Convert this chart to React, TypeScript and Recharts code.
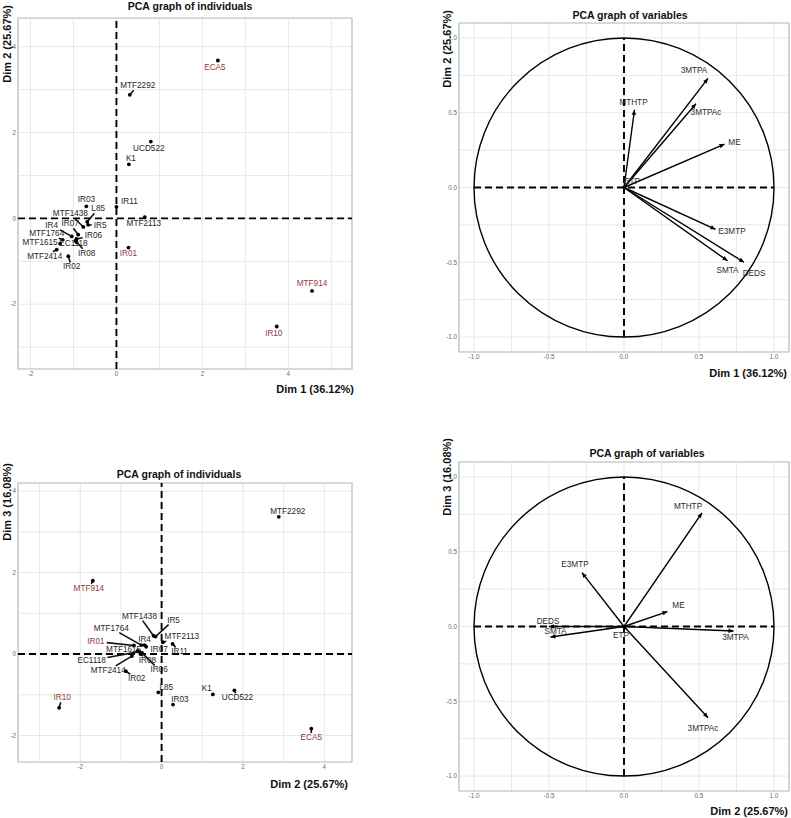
import React from "react";
import {
  CartesianGrid,
  ReferenceArea,
  ReferenceLine,
  Scatter,
  ScatterChart,
  XAxis,
  YAxis,
} from "recharts";

// individuals (coordinates on the first three dimensions)
const individuals = [
  "ECA5", "MTF2292", "UCD522", "K1", "IR11", "MTF2113", "IR01", "MTF914", "IR10", "IR03", "L85",
  "MTF1438", "IR5", "IR4", "IR07", "MTF1764", "IR06", "MTF1615", "EC1118", "IR08", "MTF2414", "IR02",
];
const indDim1 = [2.36, 0.31, 0.8, 0.29, 0.0, 0.66, 0.28, 4.55, 3.73, -0.7, -0.68, -0.77, -0.66, -1.04, -0.89, -1.25, -0.93, -1.31, -0.93, -0.95, -1.39, -1.12];
const indDim2 = [3.68, 2.88, 1.79, 1.26, 0.27, 0.03, -0.68, -1.69, -2.52, 0.28, -0.08, -0.2, -0.15, -0.42, -0.38, -0.5, -0.48, -0.59, -0.55, -0.52, -0.73, -0.88];
const indDim3 = [-1.83, 3.37, -0.89, -0.99, 0.25, 0.29, 0.21, 1.8, -1.32, -1.24, -0.94, 0.45, 0.43, 0.22, 0.18, 0.22, 0.03, 0.08, 0.06, 0.0, -0.05, -0.42];
const highlighted = ["ECA5", "IR01", "MTF914", "IR10"];

// variables (correlations with the dimensions)
const variables = ["3MTPA", "3MTPAc", "MTHTP", "ME", "E3MTP", "SMTA", "DEDS", "ETP"];
const varDim1 = [0.56, 0.48, 0.07, 0.67, 0.61, 0.69, 0.8, 0.02];
const varDim2 = [0.73, 0.56, 0.52, 0.29, -0.28, -0.49, -0.5, 0.02];
const varDim3 = [-0.03, -0.61, 0.76, 0.1, 0.36, -0.07, 0.0, -0.02];

// ticks (odd / quarter ones only carry a grid line)
const ticks12X = [-2, -1, 0, 1, 2, 3, 4, 5];
const ticks12Y = [-3, -2, -1, 0, 1, 2, 3, 4];
const ticks23X = [-3, -2, -1, 0, 1, 2, 3, 4];
const ticks23Y = [-2, -1, 0, 1, 2, 3, 4];
const varTicks = [-1, -0.75, -0.5, -0.25, 0, 0.25, 0.5, 0.75, 1];

// label placement (px offsets from the point, like repelled labels)
const nudge12: Record<string, [number, number]> = {
  ECA5: [-3, 7], MTF2292: [8, -9], UCD522: [-2, 6.5], K1: [2, -6], IR11: [13, -5.5], MTF2113: [-1, 6],
  IR01: [0, 5.5], MTF914: [0, -7], IR10: [-3, 7], IR03: [0, -7], L85: [11, -13], MTF1438: [-13, -13],
  IR5: [12, 0.5], IR4: [-20, -11], IR07: [-8, -11], MTF1764: [-16, -6], IR06: [17, -3.5],
  MTF1615: [-20, -1], EC1118: [-3, 2], IR08: [11, 12.6], MTF2414: [-12, 6.6], IR02: [3.4, 10.8],
};
const nudge23: Record<string, [number, number]> = {
  MTF2292: [9, -5.5], MTF914: [-4, 7.7], IR10: [3, -10], ECA5: [0, 9], K1: [-6, -6], UCD522: [3, 7.4],
  IR03: [7, -5], L85: [8, -5], MTF2113: [19, -5.5], IR11: [7, 8], IR5: [18, -16.5], MTF1438: [-14, -19.6],
  IR4: [0, -6], MTF1764: [-30, -17], IR01: [-38, -4], IR07: [13, 2.6], MTF1615: [-14, -1.4],
  EC1118: [-47.6, 8.7], IR08: [7, 6.7], IR06: [17, 17], MTF2414: [-23.7, 14.3], IR02: [10.8, 7.6],
};
const varNudge12: Record<string, [number, number]> = {
  "3MTPA": [-14, -7.5], "3MTPAc": [10, 9], MTHTP: [-1, -7.5], ME: [10, -2], E3MTP: [16.5, 2],
  SMTA: [0, 10], DEDS: [10, 11.5], ETP: [5, -3],
};
const varNudge23: Record<string, [number, number]> = {
  MTHTP: [-14, -6], E3MTP: [-7, -8], ME: [11, -6], DEDS: [-1, -5], SMTA: [5, -5],
  "3MTPA": [2, 7], "3MTPAc": [-5, 11], ETP: [-6, 6],
};

const FONT = "'Liberation Sans', Arial, sans-serif";
const GRID = "#e1e7e7";
const BORDER = "#b7c1c1";
const TICK_TEXT = "#6b6b6b";
const LABEL_SIZE = 8.2;

const fmtInt = (v: number) => (v % 2 === 0 ? String(v) : "");
const fmtVar = (v: number) => (Math.abs(v * 2 - Math.round(v * 2)) < 1e-9 ? v.toFixed(1) : "");

const XTick = (fmt: (v: number) => string) => (props: any) => {
  const label = fmt(props.payload.value);
  if (!label) return <g />;
  return (
    <text x={props.x} y={props.y} dy="0.71em" textAnchor="middle" fontSize={6.3} fill={TICK_TEXT} fontFamily={FONT}>
      {label}
    </text>
  );
};

const YTick = (fmt: (v: number) => string) => (props: any) => {
  const label = fmt(props.payload.value);
  if (!label) return <g />;
  return (
    <text x={props.x} y={props.y} dy="0.355em" textAnchor="end" fontSize={6.3} fill={TICK_TEXT} fontFamily={FONT}>
      {label}
    </text>
  );
};

// point + label, with a leader segment when the label sits away from the point
const IndMark = (nudge: Record<string, [number, number]>) => (props: any) => {
  const { cx, cy, payload } = props;
  const name: string = payload.name;
  const [dx, dy] = nudge[name] || [0, -7];
  const lx = cx + dx;
  const ly = cy + dy;
  const hw = name.length * 2.45 + 1;
  const hh = 4.5;
  let seg = null;
  const t = Math.min(Math.abs(dx) > 0 ? hw / Math.abs(dx) : Infinity, Math.abs(dy) > 0 ? hh / Math.abs(dy) : Infinity);
  if (t < 1) {
    const ex = lx - dx * t;
    const ey = ly - dy * t;
    if (Math.hypot(ex - cx, ey - cy) > 3) {
      seg = <line x1={cx} y1={cy} x2={ex} y2={ey} stroke="#111" strokeWidth={1.6} />;
    }
  }
  const red = highlighted.includes(name);
  return (
    <g>
      {seg}
      <circle cx={cx} cy={cy} r={1.9} fill="#000" />
      <text
        x={lx}
        y={ly}
        textAnchor="middle"
        dominantBaseline="central"
        fontSize={LABEL_SIZE}
        fontFamily={FONT}
        fill={red ? "#8f3b3b" : "#1e1e1e"}
      >
        {name}
      </text>
    </g>
  );
};

const VarLabel = (nudge: Record<string, [number, number]>) => (props: any) => {
  const { cx, cy, payload } = props;
  const [dx, dy] = nudge[payload.name] || [0, -7];
  return (
    <text
      x={cx + dx}
      y={cy + dy}
      textAnchor="middle"
      dominantBaseline="central"
      fontSize={LABEL_SIZE}
      fontFamily={FONT}
      fill="#2a2a2a"
    >
      {payload.name}
    </text>
  );
};

const Arrow = (props: any) => {
  const { x1, y1, x2, y2 } = props;
  const ang = Math.atan2(y2 - y1, x2 - x1);
  const L = 5;
  const W = 2.2;
  const bx = x2 - L * Math.cos(ang);
  const by = y2 - L * Math.sin(ang);
  const nx = -Math.sin(ang) * W;
  const ny = Math.cos(ang) * W;
  return (
    <g>
      <line x1={x1} y1={y1} x2={x2} y2={y2} stroke="#000" strokeWidth={1.4} />
      <polygon points={`${x2},${y2} ${bx + nx},${by + ny} ${bx - nx},${by - ny}`} fill="#000" />
    </g>
  );
};

const UnitCircle = (props: any) => {
  const { x, y, width, height } = props;
  return (
    <ellipse
      cx={x + width / 2}
      cy={y + height / 2}
      rx={width / 2}
      ry={height / 2}
      fill="none"
      stroke="#000"
      strokeWidth={1.4}
    />
  );
};

const dashed = { stroke: "#000", strokeWidth: 1.9, strokeDasharray: "7 4" };

interface IndPanelProps {
  left: number;
  top: number;
  width: number;
  height: number;
  marginTop: number;
  xHeight: number;
  xDomain: [number, number];
  yDomain: [number, number];
  xTicks: number[];
  yTicks: number[];
  xs: number[];
  ys: number[];
  nudge: Record<string, [number, number]>;
}

function IndPanel(p: IndPanelProps) {
  const rows = individuals.map((name, i) => ({ name, x: p.xs[i], y: p.ys[i] }));
  return (
    <div style={{ position: "absolute", left: p.left, top: p.top }}>
      <ScatterChart width={p.width} height={p.height} margin={{ top: p.marginTop, right: p.width - 352, bottom: 0, left: 0 }}>
        <CartesianGrid stroke={GRID} strokeWidth={0.9} />
        <XAxis
          type="number"
          dataKey="x"
          domain={p.xDomain}
          ticks={p.xTicks}
          allowDataOverflow
          height={p.xHeight}
          axisLine={false}
          tickLine={false}
          tickSize={0}
          tickMargin={3}
          tick={XTick(fmtInt)}
          interval={0}
        />
        <YAxis
          type="number"
          dataKey="y"
          domain={p.yDomain}
          ticks={p.yTicks}
          allowDataOverflow
          width={18}
          axisLine={false}
          tickLine={false}
          tickSize={0}
          tickMargin={2}
          tick={YTick(fmtInt)}
          interval={0}
        />
        <ReferenceArea
          x1={p.xDomain[0]}
          x2={p.xDomain[1]}
          y1={p.yDomain[0]}
          y2={p.yDomain[1]}
          fill="none"
          fillOpacity={0}
          stroke={BORDER}
          strokeWidth={1.2}
        />
        <ReferenceLine x={0} {...dashed} />
        <ReferenceLine y={0} {...dashed} />
        <Scatter data={rows} shape={IndMark(p.nudge)} isAnimationActive={false} />
      </ScatterChart>
    </div>
  );
}

interface VarPanelProps {
  left: number;
  top: number;
  height: number;
  marginTop: number;
  xHeight: number;
  xs: number[];
  ys: number[];
  nudge: Record<string, [number, number]>;
}

function VarPanel(p: VarPanelProps) {
  const rows = variables.map((name, i) => ({ name, x: p.xs[i], y: p.ys[i] }));
  const dom: [number, number] = [-1.1, 1.1];
  return (
    <div style={{ position: "absolute", left: p.left, top: p.top }}>
      <ScatterChart width={391} height={p.height} margin={{ top: p.marginTop, right: 2, bottom: 0, left: 0 }}>
        <CartesianGrid stroke={GRID} strokeWidth={0.9} />
        <XAxis
          type="number"
          dataKey="x"
          domain={dom}
          ticks={varTicks}
          allowDataOverflow
          height={p.xHeight}
          axisLine={false}
          tickLine={false}
          tickSize={0}
          tickMargin={3}
          tick={XTick(fmtVar)}
          interval={0}
        />
        <YAxis
          type="number"
          dataKey="y"
          domain={dom}
          ticks={varTicks}
          allowDataOverflow
          width={59}
          axisLine={false}
          tickLine={false}
          tickSize={0}
          tickMargin={2}
          tick={YTick(fmtVar)}
          interval={0}
        />
        <ReferenceArea x1={-1.1} x2={1.1} y1={-1.1} y2={1.1} fill="none" fillOpacity={0} stroke={BORDER} strokeWidth={1.2} />
        <ReferenceArea x1={-1} x2={1} y1={-1} y2={1} shape={UnitCircle} />
        <ReferenceLine segment={[{ x: -1, y: 0 }, { x: 1, y: 0 }]} {...dashed} />
        <ReferenceLine segment={[{ x: 0, y: -1 }, { x: 0, y: 1 }]} {...dashed} />
        {rows.map((r) => (
          <ReferenceLine key={r.name} segment={[{ x: 0, y: 0 }, { x: r.x, y: r.y }]} shape={Arrow} />
        ))}
        <Scatter data={rows} shape={VarLabel(p.nudge)} isAnimationActive={false} />
      </ScatterChart>
    </div>
  );
}

const titleStyle = { fontFamily: FONT, fontWeight: 700, fontSize: 10.5, fill: "#111" } as const;

export default function App() {
  return (
    <div style={{ position: "absolute", left: 0, top: 0, width: 791, height: 818, background: "#fff" }}>
      <IndPanel
        left={0}
        top={0}
        width={395}
        height={400}
        marginTop={18}
        xHeight={31}
        xDomain={[-2.29, 5.48]}
        yDomain={[-3.51, 4.67]}
        xTicks={ticks12X}
        yTicks={ticks12Y}
        xs={indDim1}
        ys={indDim2}
        nudge={nudge12}
      />
      <VarPanel left={400} top={0} height={400} marginTop={23} xHeight={48} xs={varDim1} ys={varDim2} nudge={varNudge12} />
      <IndPanel
        left={0}
        top={410}
        width={395}
        height={408}
        marginTop={73}
        xHeight={56}
        xDomain={[-3.53, 4.68]}
        yDomain={[-2.65, 4.2]}
        xTicks={ticks23X}
        yTicks={ticks23Y}
        xs={indDim2}
        ys={indDim3}
        nudge={nudge23}
      />
      <VarPanel left={400} top={410} height={408} marginTop={52} xHeight={27} xs={varDim2} ys={varDim3} nudge={varNudge23} />

      <svg width={791} height={818} style={{ position: "absolute", left: 0, top: 0, pointerEvents: "none" }}>
        <text x={190} y={6} textAnchor="middle" dominantBaseline="central" {...titleStyle}>PCA graph of individuals</text>
        <text x={630} y={15} textAnchor="middle" dominantBaseline="central" {...titleStyle}>PCA graph of variables</text>
        <text x={179} y={474} textAnchor="middle" dominantBaseline="central" {...titleStyle}>PCA graph of individuals</text>
        <text x={647} y={453} textAnchor="middle" dominantBaseline="central" {...titleStyle}>PCA graph of variables</text>

        <text x={354} y={389} textAnchor="end" dominantBaseline="central" {...titleStyle} fontSize={11}>Dim 1 (36.12%)</text>
        <text x={787} y={373} textAnchor="end" dominantBaseline="central" {...titleStyle} fontSize={11}>Dim 1 (36.12%)</text>
        <text x={348} y={784} textAnchor="end" dominantBaseline="central" {...titleStyle} fontSize={11}>Dim 2 (25.67%)</text>
        <text x={788} y={811} textAnchor="end" dominantBaseline="central" {...titleStyle} fontSize={11}>Dim 2 (25.67%)</text>

        <text x={7} y={5} transform="rotate(-90 7 5)" textAnchor="end" dominantBaseline="central" {...titleStyle} fontSize={11}>Dim 2 (25.67%)</text>
        <text x={446.7} y={10} transform="rotate(-90 446.7 10)" textAnchor="end" dominantBaseline="central" {...titleStyle} fontSize={11}>Dim 2 (25.67%)</text>
        <text x={7} y={463} transform="rotate(-90 7 463)" textAnchor="end" dominantBaseline="central" {...titleStyle} fontSize={11}>Dim 3 (16.08%)</text>
        <text x={446.7} y={438} transform="rotate(-90 446.7 438)" textAnchor="end" dominantBaseline="central" {...titleStyle} fontSize={11}>Dim 3 (16.08%)</text>
      </svg>
    </div>
  );
}
